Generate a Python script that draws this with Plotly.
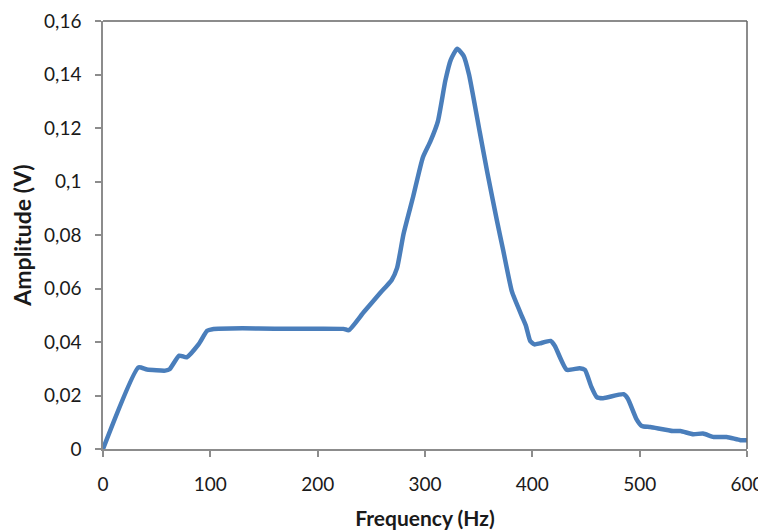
import plotly.graph_objects as go

freq_hz = [0, 33, 41, 58, 62, 71, 78, 89, 97, 102, 130, 160, 200, 224, 229,
           243, 258, 269, 274, 280, 289, 298, 305, 312, 319, 324, 330, 336,
           341, 351, 358, 367, 373, 381, 390, 394, 398, 402, 407, 417, 421,
           432, 444, 449, 455, 460, 466, 485, 489, 497, 502, 510, 531, 538,
           550, 559, 569, 581, 594, 600]
amplitude_v = [0, 0.0305, 0.0297, 0.0293, 0.0298, 0.0349, 0.0343, 0.0391,
               0.0442, 0.0448, 0.0451, 0.0450, 0.0450, 0.0449, 0.0444,
               0.0512, 0.0582, 0.0632, 0.0677, 0.0804, 0.0944, 0.1090,
               0.1150, 0.1225, 0.1378, 0.1455, 0.1496, 0.1470, 0.1400,
               0.1185, 0.1035, 0.0854, 0.0740, 0.0588, 0.0499, 0.0461,
               0.0404, 0.0391, 0.0395, 0.0404, 0.0385, 0.0296, 0.0302,
               0.0296, 0.0232, 0.0194, 0.0190, 0.0205, 0.0188, 0.0112,
               0.0086, 0.0082, 0.0067, 0.0067, 0.0055, 0.0058, 0.0045,
               0.0045, 0.0033, 0.0033]

x_ticks = [0, 100, 200, 300, 400, 500, 600]
x_tick_labels = ["0", "100", "200", "300", "400", "500", "600"]
y_ticks = [0, 0.02, 0.04, 0.06, 0.08, 0.10, 0.12, 0.14, 0.16]
y_tick_labels = ["0", "0,02", "0,04", "0,06", "0,08", "0,1", "0,12", "0,14", "0,16"]

fig = go.Figure()
fig.add_trace(go.Scatter(
    x=freq_hz, y=amplitude_v, mode="lines",
    line=dict(color="#4A7EBB", width=4.5, shape="spline", smoothing=0.5),
    showlegend=False, hoverinfo="x+y"))

axis_font = dict(family="Lato", size=19, color="#1a1a1a")
x_title_font = dict(family="Lato", size=21, color="#1a1a1a", weight="bold")
y_title_font = dict(family="Lato", size=23, color="#1a1a1a", weight="bold")

fig.update_layout(
    width=758, height=522,
    margin=dict(l=95, r=19, t=13, b=81),
    paper_bgcolor="white", plot_bgcolor="white",
    xaxis=dict(
        range=[0, 600], tickvals=x_ticks, ticktext=x_tick_labels,
        showgrid=False, zeroline=False, automargin=False,
        showline=True, linecolor="#8C8C8C", linewidth=1.5,
        ticks="outside", ticklen=6, tickcolor="#8C8C8C", tickwidth=1.5,
        tickfont=axis_font, ticklabelstandoff=11,
        title=dict(text="Frequency (Hz)", font=x_title_font, standoff=24),
    ),
    yaxis=dict(
        range=[0, 0.16], tickvals=y_ticks, ticktext=y_tick_labels,
        showgrid=False, zeroline=False, automargin=False,
        showline=True, linecolor="#8C8C8C", linewidth=1.5,
        ticks="outside", ticklen=6, tickcolor="#8C8C8C", tickwidth=1.5,
        tickfont=axis_font, ticklabelstandoff=10,
        title=dict(text="Amplitude (V)", font=y_title_font, standoff=6),
    ),
    shapes=[
        dict(type="line", xref="paper", yref="paper", x0=0, x1=1, y0=1, y1=1,
             line=dict(color="#666666", width=1.5)),
        dict(type="line", xref="paper", yref="paper", x0=1, x1=1, y0=0, y1=1,
             line=dict(color="#666666", width=1.5)),
    ],
)

fig.write_html("out.html")
